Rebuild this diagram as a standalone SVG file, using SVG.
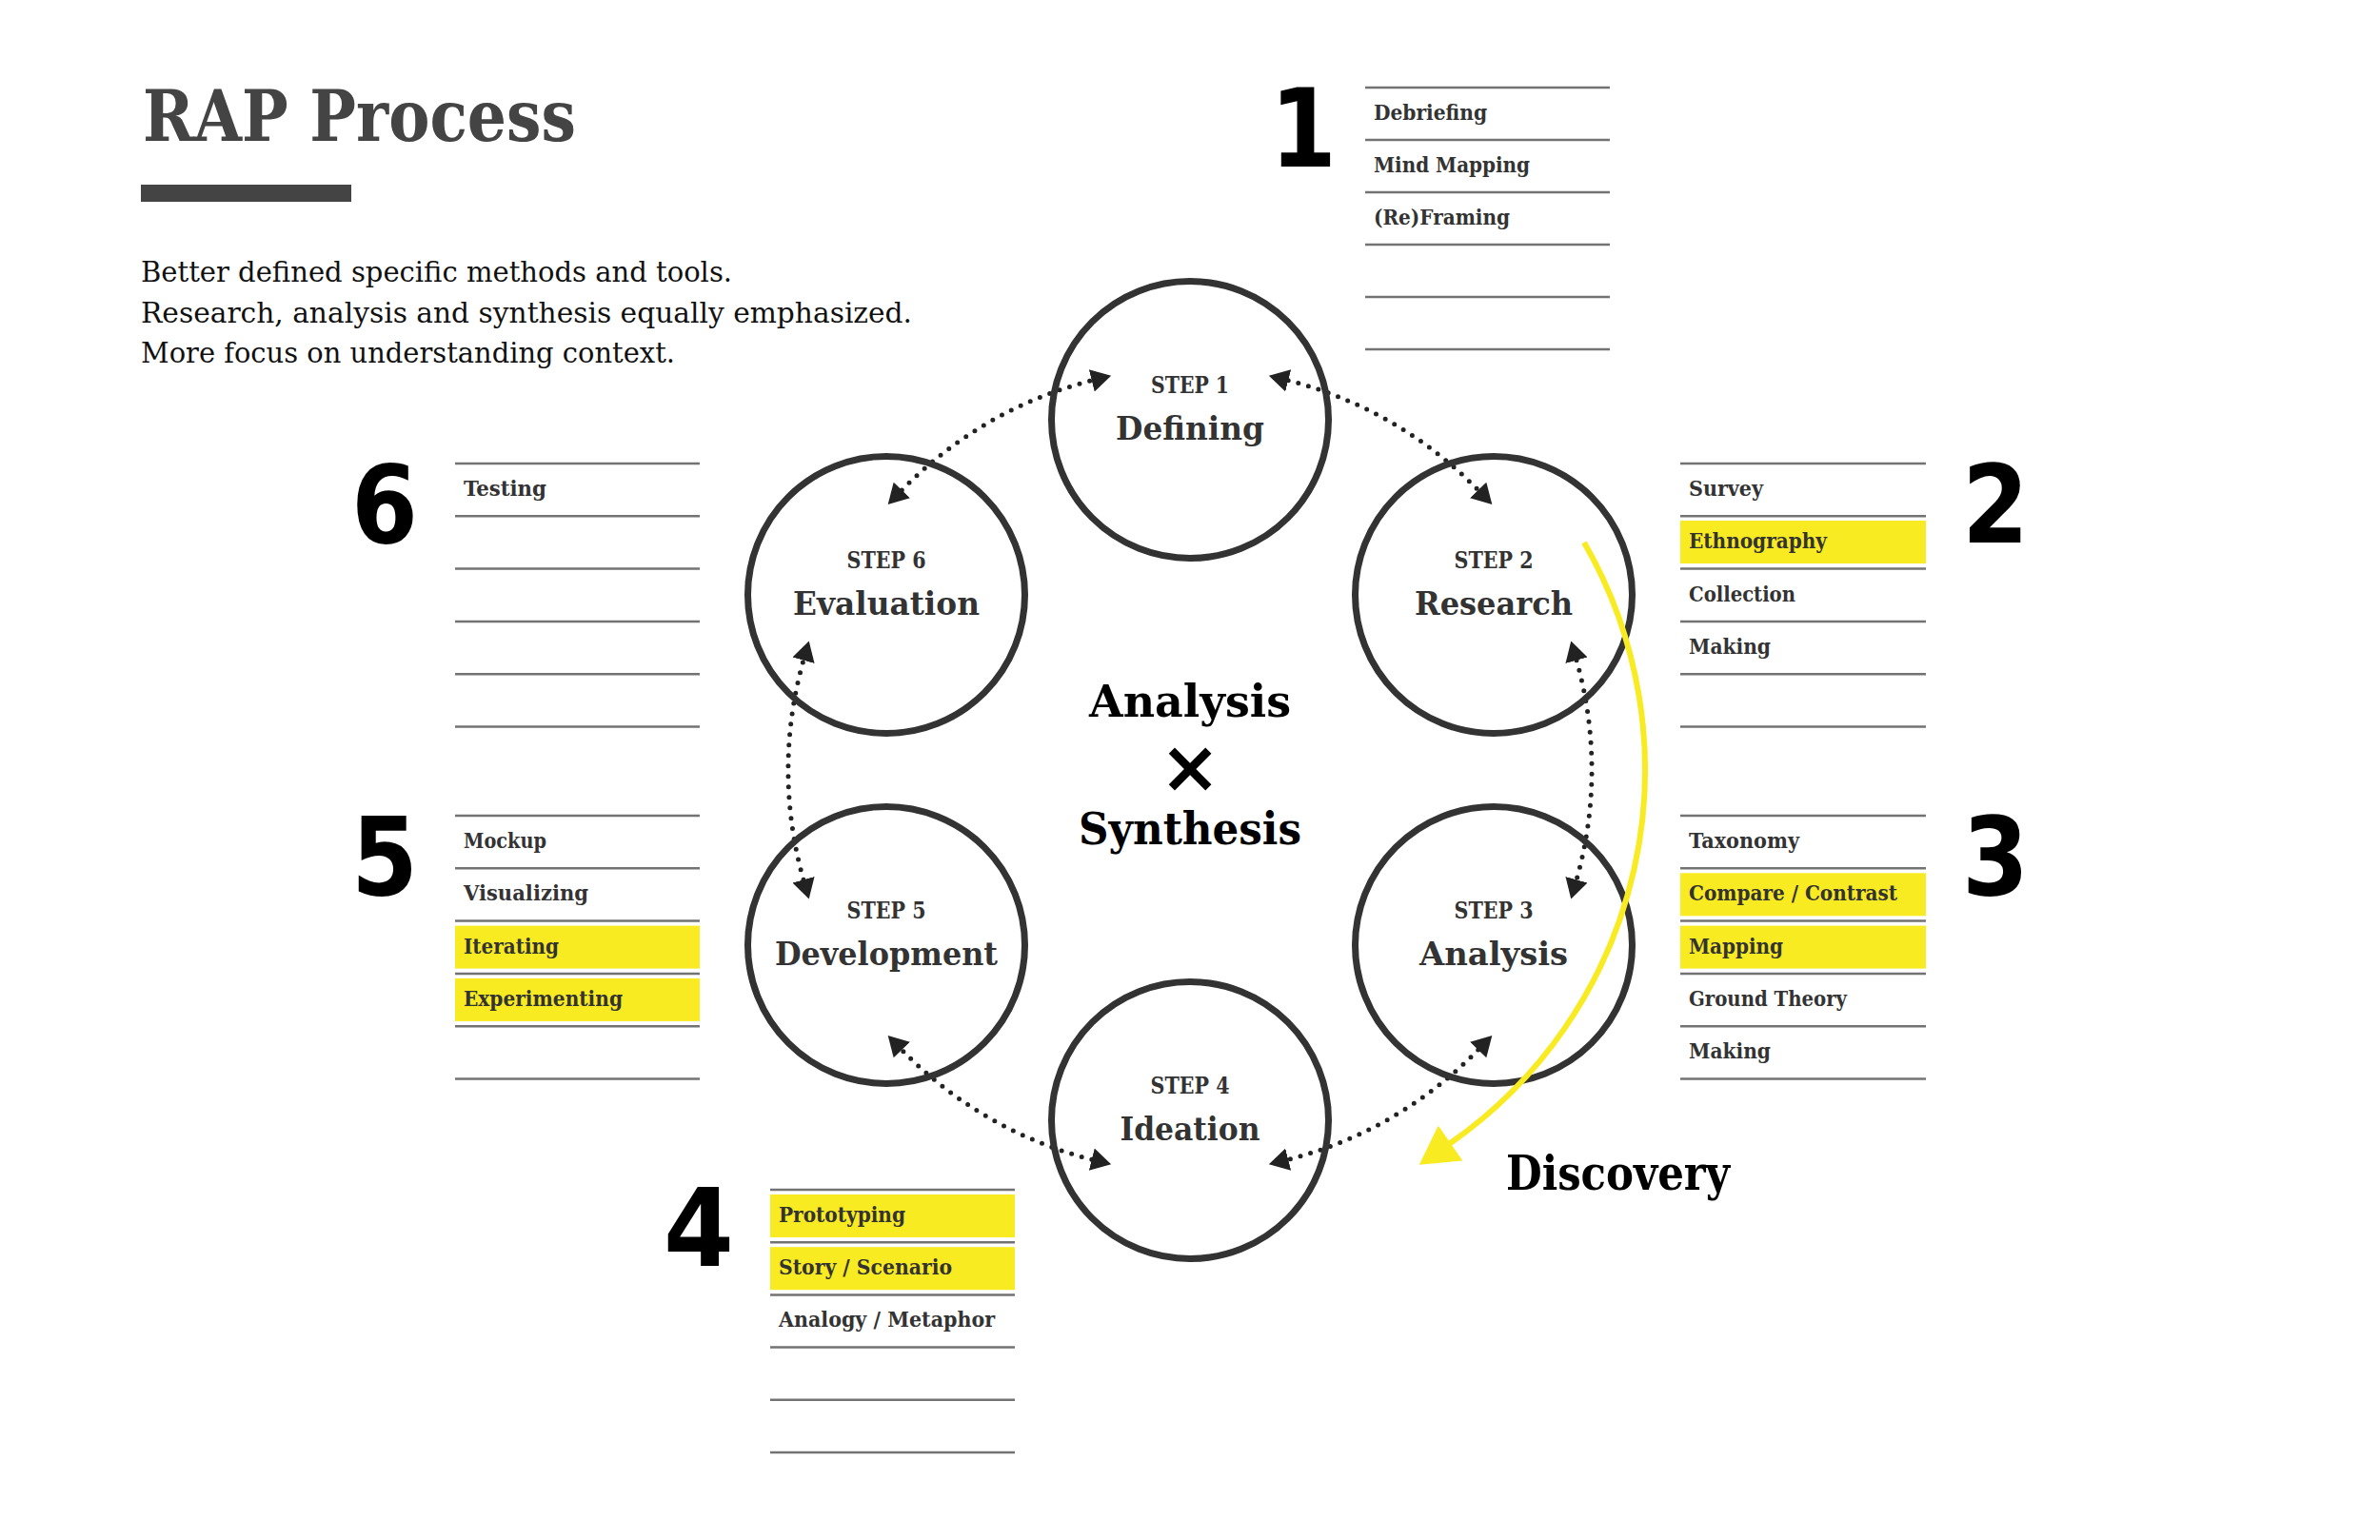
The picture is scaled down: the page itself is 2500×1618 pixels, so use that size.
<svg xmlns="http://www.w3.org/2000/svg" width="2500" height="1618" viewBox="0 0 2500 1618">
<style>
.slab{font-family:'DejaVu Serif Condensed','DejaVu Serif','Liberation Serif',serif;font-weight:bold}
.body{font-family:'DejaVu Serif Condensed','DejaVu Serif','Liberation Serif',serif;font-weight:normal;font-size:30px;fill:#111}
.ring{fill:none;stroke:#333;stroke-width:7}
.step{font-size:25px;fill:#333;text-anchor:middle}
.name{font-size:33px;fill:#333;text-anchor:middle}
.item{font-size:23px;fill:#333}
.rule{stroke:#737373;stroke-width:2.5}
.hl{fill:#F9EB21}
.num{font-family:'DejaVu Sans','Liberation Sans',sans-serif;font-weight:bold;font-size:114px;fill:#000}
.dots{fill:none;stroke:#222;stroke-width:5;stroke-linecap:round;stroke-dasharray:0 11;marker-start:url(#ah);marker-end:url(#ah)}
.center{font-size:47px;fill:#000;text-anchor:middle}
</style>
<defs>
<marker id="ah" markerUnits="userSpaceOnUse" viewBox="0 -15 30 30" markerWidth="30" markerHeight="30" refX="0" refY="0" orient="auto-start-reverse">
<path d="M0,-12 L21,0 L0,12 Z" fill="#222" stroke="none"/>
</marker>
<marker id="yh" markerUnits="userSpaceOnUse" viewBox="0 -25 50 50" markerWidth="50" markerHeight="50" refX="1" refY="0" orient="auto">
<path d="M0,-22.5 L40,0 L0,22.5 Z" fill="#F9EB21" stroke="none"/>
</marker>
</defs>
<rect width="2500" height="1618" fill="#fff"/>

<g id="title">
<text class="slab" x="150" y="148" font-size="74" fill="#444" textLength="455" lengthAdjust="spacingAndGlyphs">RAP Process</text>
<rect x="148" y="194" width="221" height="18" fill="#444"/>
<text class="body" x="148" y="296" textLength="621" lengthAdjust="spacingAndGlyphs">Better defined specific methods and tools.</text>
<text class="body" x="148" y="339" textLength="810" lengthAdjust="spacingAndGlyphs">Research, analysis and synthesis equally emphasized.</text>
<text class="body" x="148" y="381" textLength="561" lengthAdjust="spacingAndGlyphs">More focus on understanding context.</text>
</g>

<g id="connectors">
<path class="dots" d="M1353.2,399.8 A422,422 0 0 1 1552.7,515.0"/>
<path class="dots" d="M1656.0,693.7 A422,422 0 0 1 1656.0,924.3"/>
<path class="dots" d="M1552.7,1103.0 A422,422 0 0 1 1353.2,1218.2"/>
<path class="dots" d="M1146.8,1218.2 A422,422 0 0 1 947.3,1103.0"/>
<path class="dots" d="M844.0,924.3 A422,422 0 0 1 844.0,693.7"/>
<path class="dots" d="M947.3,515.0 A422,422 0 0 1 1146.8,399.8"/>
</g>

<g id="step1">
<circle class="ring" cx="1250" cy="441" r="145.5"/>
<text class="slab step" x="1250" y="413" textLength="82" lengthAdjust="spacingAndGlyphs">STEP 1</text>
<text class="slab name" x="1250" y="462" textLength="156" lengthAdjust="spacingAndGlyphs">Defining</text>
</g>
<g id="step2">
<circle class="ring" cx="1569" cy="625" r="145.5"/>
<text class="slab step" x="1569" y="597" textLength="83" lengthAdjust="spacingAndGlyphs">STEP 2</text>
<text class="slab name" x="1569" y="646" textLength="166" lengthAdjust="spacingAndGlyphs">Research</text>
</g>
<g id="step3">
<circle class="ring" cx="1569" cy="993" r="145.5"/>
<text class="slab step" x="1569" y="965" textLength="83" lengthAdjust="spacingAndGlyphs">STEP 3</text>
<text class="slab name" x="1569" y="1014" textLength="156" lengthAdjust="spacingAndGlyphs">Analysis</text>
</g>
<g id="step4">
<circle class="ring" cx="1250" cy="1177" r="145.5"/>
<text class="slab step" x="1250" y="1149" textLength="83" lengthAdjust="spacingAndGlyphs">STEP 4</text>
<text class="slab name" x="1250" y="1198" textLength="147" lengthAdjust="spacingAndGlyphs">Ideation</text>
</g>
<g id="step5">
<circle class="ring" cx="931" cy="993" r="145.5"/>
<text class="slab step" x="931" y="965" textLength="83" lengthAdjust="spacingAndGlyphs">STEP 5</text>
<text class="slab name" x="931" y="1014" textLength="234" lengthAdjust="spacingAndGlyphs">Development</text>
</g>
<g id="step6">
<circle class="ring" cx="931" cy="625" r="145.5"/>
<text class="slab step" x="931" y="597" textLength="83" lengthAdjust="spacingAndGlyphs">STEP 6</text>
<text class="slab name" x="931" y="646" textLength="196" lengthAdjust="spacingAndGlyphs">Evaluation</text>
</g>

<g id="discovery">
<path d="M1664,570 A478,478 0 0 1 1522.8,1201.5" fill="none" stroke="#F9EB21" stroke-width="6" marker-end="url(#yh)"/>
<text class="slab" x="1582" y="1250" font-size="50" fill="#000" textLength="235" lengthAdjust="spacingAndGlyphs">Discovery</text>
</g>

<g id="center">
<text class="slab center" x="1250" y="753" textLength="212" lengthAdjust="spacingAndGlyphs">Analysis</text>
<text x="1250" y="832" font-family="'DejaVu Sans','Liberation Sans',sans-serif" font-weight="bold" font-size="76" fill="#000" text-anchor="middle">×</text>
<text class="slab center" x="1250" y="887" textLength="234" lengthAdjust="spacingAndGlyphs">Synthesis</text>
</g>

<g id="list1">
<text class="num" x="1334" y="175" textLength="70" lengthAdjust="spacingAndGlyphs">1</text>
<line class="rule" x1="1434" y1="92" x2="1691" y2="92"/>
<line class="rule" x1="1434" y1="147" x2="1691" y2="147"/>
<line class="rule" x1="1434" y1="202" x2="1691" y2="202"/>
<line class="rule" x1="1434" y1="257" x2="1691" y2="257"/>
<line class="rule" x1="1434" y1="312" x2="1691" y2="312"/>
<line class="rule" x1="1434" y1="367" x2="1691" y2="367"/>
<text class="slab item" x="1443" y="126" textLength="119" lengthAdjust="spacingAndGlyphs">Debriefing</text>
<text class="slab item" x="1443" y="181" textLength="164" lengthAdjust="spacingAndGlyphs">Mind Mapping</text>
<text class="slab item" x="1443" y="236" textLength="143" lengthAdjust="spacingAndGlyphs">(Re)Framing</text>
</g>

<g id="list2">
<text class="num" x="2061" y="570" textLength="70" lengthAdjust="spacingAndGlyphs">2</text>
<rect class="hl" x="1765" y="547" width="258" height="45"/>
<line class="rule" x1="1765" y1="487" x2="2023" y2="487"/>
<line class="rule" x1="1765" y1="542.3" x2="2023" y2="542.3"/>
<line class="rule" x1="1765" y1="597.6" x2="2023" y2="597.6"/>
<line class="rule" x1="1765" y1="652.9" x2="2023" y2="652.9"/>
<line class="rule" x1="1765" y1="708.2" x2="2023" y2="708.2"/>
<line class="rule" x1="1765" y1="763.5" x2="2023" y2="763.5"/>
<text class="slab item" x="1774" y="521" textLength="78" lengthAdjust="spacingAndGlyphs">Survey</text>
<text class="slab item" x="1774" y="576.3" textLength="145" lengthAdjust="spacingAndGlyphs">Ethnography</text>
<text class="slab item" x="1774" y="631.6" textLength="112" lengthAdjust="spacingAndGlyphs">Collection</text>
<text class="slab item" x="1774" y="686.9" textLength="86" lengthAdjust="spacingAndGlyphs">Making</text>
</g>

<g id="list3">
<text class="num" x="2061" y="940" textLength="70" lengthAdjust="spacingAndGlyphs">3</text>
<rect class="hl" x="1765" y="917.3" width="258" height="45"/>
<rect class="hl" x="1765" y="972.6" width="258" height="45"/>
<line class="rule" x1="1765" y1="857" x2="2023" y2="857"/>
<line class="rule" x1="1765" y1="912.3" x2="2023" y2="912.3"/>
<line class="rule" x1="1765" y1="967.6" x2="2023" y2="967.6"/>
<line class="rule" x1="1765" y1="1022.9" x2="2023" y2="1022.9"/>
<line class="rule" x1="1765" y1="1078.2" x2="2023" y2="1078.2"/>
<line class="rule" x1="1765" y1="1133.5" x2="2023" y2="1133.5"/>
<text class="slab item" x="1774" y="891" textLength="116" lengthAdjust="spacingAndGlyphs">Taxonomy</text>
<text class="slab item" x="1774" y="946.3" textLength="219" lengthAdjust="spacingAndGlyphs">Compare / Contrast</text>
<text class="slab item" x="1774" y="1001.6" textLength="99" lengthAdjust="spacingAndGlyphs">Mapping</text>
<text class="slab item" x="1774" y="1056.9" textLength="166" lengthAdjust="spacingAndGlyphs">Ground Theory</text>
<text class="slab item" x="1774" y="1112.2" textLength="86" lengthAdjust="spacingAndGlyphs">Making</text>
</g>

<g id="list4">
<text class="num" x="697" y="1330" textLength="74" lengthAdjust="spacingAndGlyphs">4</text>
<rect class="hl" x="809" y="1255" width="257" height="45"/>
<rect class="hl" x="809" y="1310.2" width="257" height="45"/>
<line class="rule" x1="809" y1="1250" x2="1066" y2="1250"/>
<line class="rule" x1="809" y1="1305.2" x2="1066" y2="1305.2"/>
<line class="rule" x1="809" y1="1360.4" x2="1066" y2="1360.4"/>
<line class="rule" x1="809" y1="1415.6" x2="1066" y2="1415.6"/>
<line class="rule" x1="809" y1="1470.8" x2="1066" y2="1470.8"/>
<line class="rule" x1="809" y1="1526" x2="1066" y2="1526"/>
<text class="slab item" x="818" y="1284" textLength="133" lengthAdjust="spacingAndGlyphs">Prototyping</text>
<text class="slab item" x="818" y="1339.2" textLength="182" lengthAdjust="spacingAndGlyphs">Story / Scenario</text>
<text class="slab item" x="818" y="1394.4" textLength="227" lengthAdjust="spacingAndGlyphs">Analogy / Metaphor</text>
</g>

<g id="list5">
<text class="num" x="369" y="940" textLength="70" lengthAdjust="spacingAndGlyphs">5</text>
<rect class="hl" x="478" y="972.6" width="257" height="45"/>
<rect class="hl" x="478" y="1027.9" width="257" height="45"/>
<line class="rule" x1="478" y1="857" x2="735" y2="857"/>
<line class="rule" x1="478" y1="912.3" x2="735" y2="912.3"/>
<line class="rule" x1="478" y1="967.6" x2="735" y2="967.6"/>
<line class="rule" x1="478" y1="1022.9" x2="735" y2="1022.9"/>
<line class="rule" x1="478" y1="1078.2" x2="735" y2="1078.2"/>
<line class="rule" x1="478" y1="1133.5" x2="735" y2="1133.5"/>
<text class="slab item" x="487" y="891" textLength="87" lengthAdjust="spacingAndGlyphs">Mockup</text>
<text class="slab item" x="487" y="946.3" textLength="131" lengthAdjust="spacingAndGlyphs">Visualizing</text>
<text class="slab item" x="487" y="1001.6" textLength="100" lengthAdjust="spacingAndGlyphs">Iterating</text>
<text class="slab item" x="487" y="1056.9" textLength="167" lengthAdjust="spacingAndGlyphs">Experimenting</text>
</g>

<g id="list6">
<text class="num" x="369" y="570" textLength="70" lengthAdjust="spacingAndGlyphs">6</text>
<line class="rule" x1="478" y1="487" x2="735" y2="487"/>
<line class="rule" x1="478" y1="542.3" x2="735" y2="542.3"/>
<line class="rule" x1="478" y1="597.6" x2="735" y2="597.6"/>
<line class="rule" x1="478" y1="652.9" x2="735" y2="652.9"/>
<line class="rule" x1="478" y1="708.2" x2="735" y2="708.2"/>
<line class="rule" x1="478" y1="763.5" x2="735" y2="763.5"/>
<text class="slab item" x="487" y="521" textLength="87" lengthAdjust="spacingAndGlyphs">Testing</text>
</g>
</svg>
